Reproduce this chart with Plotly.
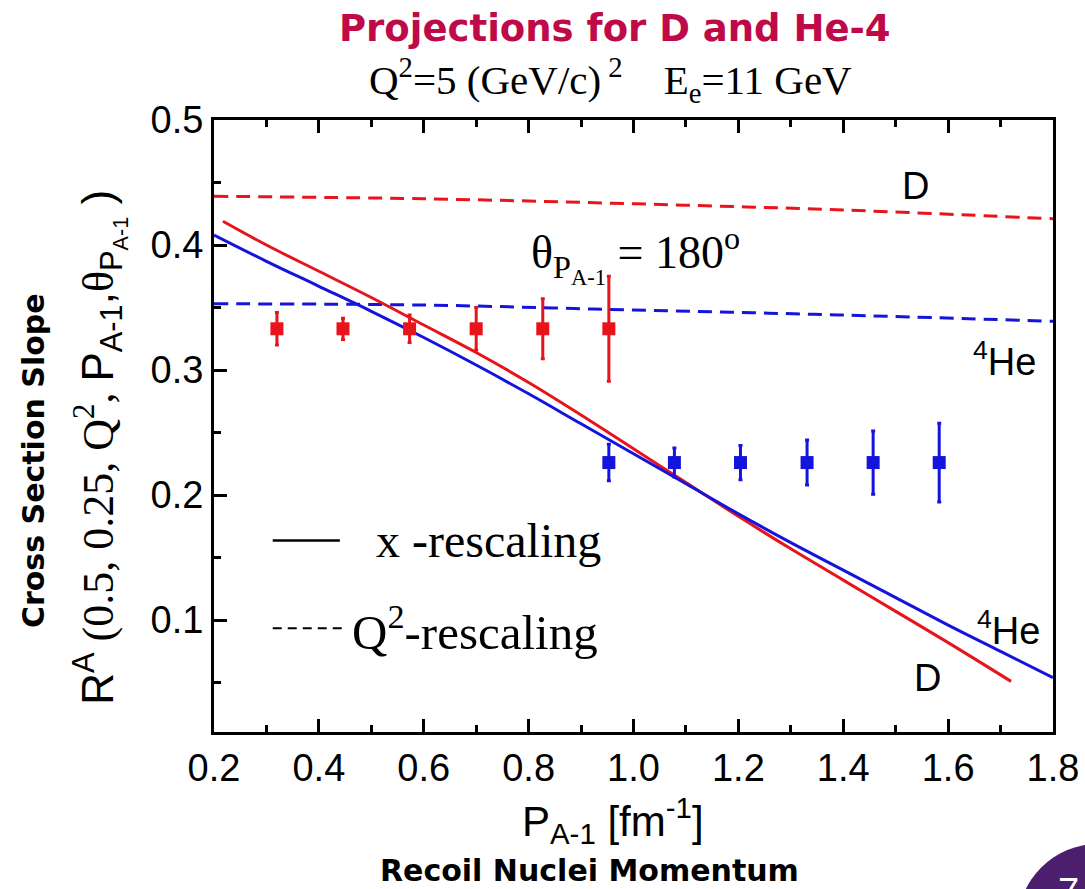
import plotly.graph_objects as go

# --- model curves: x-rescaling (solid) ---
d_x_p = [0.217, 0.3, 0.4, 0.5, 0.6, 0.7, 0.8, 0.9, 1.0, 1.1, 1.2, 1.3, 1.4, 1.5, 1.6, 1.72]
d_x_r = [0.419, 0.400, 0.379, 0.358, 0.336, 0.314, 0.290, 0.264, 0.237, 0.210, 0.183, 0.157, 0.132, 0.107, 0.082, 0.051]

he_x_p = [0.2, 0.3, 0.4, 0.5, 0.6, 0.7, 0.8, 0.9, 1.0, 1.1, 1.2, 1.3, 1.4, 1.5, 1.6, 1.7, 1.8]
he_x_r = [0.408, 0.387, 0.367, 0.347, 0.326, 0.304, 0.281, 0.257, 0.233, 0.209, 0.185, 0.162, 0.140, 0.118, 0.096, 0.075, 0.054]

# --- model curves: Q^2-rescaling (dashed) ---
d_q_p = [0.2, 0.6, 1.0, 1.4, 1.8]
d_q_r = [0.439, 0.437, 0.433, 0.428, 0.421]

he_q_p = [0.2, 0.6, 1.0, 1.4, 1.8]
he_q_r = [0.353, 0.352, 0.348, 0.344, 0.339]

# --- projected measurements ---
d_pts_p = [0.320, 0.446, 0.573, 0.700, 0.827, 0.953]
d_pts_r = [0.333, 0.333, 0.333, 0.333, 0.333, 0.333]
d_pts_err = [0.013, 0.0085, 0.011, 0.017, 0.024, 0.042]

he_pts_p = [0.953, 1.078, 1.204, 1.331, 1.457, 1.583]
he_pts_r = [0.226, 0.226, 0.226, 0.226, 0.226, 0.226]
he_pts_err = [0.0146, 0.0116, 0.0137, 0.018, 0.0253, 0.0315]

x_ticks = [0.2, 0.4, 0.6, 0.8, 1.0, 1.2, 1.4, 1.6, 1.8]
x_tick_text = ["0.2", "0.4", "0.6", "0.8", "1.0", "1.2", "1.4", "1.6", "1.8"]
y_ticks = [0.1, 0.2, 0.3, 0.4, 0.5]

RED = "#e8141c"
BLUE = "#1414dc"
SANS = "Liberation Sans"
SERIF = "Liberation Serif"
BOLD = "DejaVu Sans"

fig = go.Figure()

fig.add_trace(go.Scatter(x=d_q_p, y=d_q_r, mode="lines", line=dict(color=RED, width=3, dash="14px,8px", shape="spline")))
fig.add_trace(go.Scatter(x=he_q_p, y=he_q_r, mode="lines", line=dict(color=BLUE, width=3, dash="14px,8px", shape="spline")))
fig.add_trace(go.Scatter(x=d_x_p, y=d_x_r, mode="lines", line=dict(color=RED, width=3, shape="spline")))
fig.add_trace(go.Scatter(x=he_x_p, y=he_x_r, mode="lines", line=dict(color=BLUE, width=3, shape="spline")))

fig.add_trace(go.Scatter(
    x=d_pts_p, y=d_pts_r, mode="markers",
    marker=dict(symbol="square", size=13, color=RED),
    error_y=dict(type="data", array=d_pts_err, color=RED, thickness=3, width=2),
))
fig.add_trace(go.Scatter(
    x=he_pts_p, y=he_pts_r, mode="markers",
    marker=dict(symbol="square", size=13, color=BLUE),
    error_y=dict(type="data", array=he_pts_err, color=BLUE, thickness=3, width=2),
))

axis_common = dict(
    showline=True, linecolor="black", linewidth=3, showgrid=False, zeroline=False,
    ticks="inside", ticklen=13, tickwidth=2.5, tickcolor="black", automargin=False,
    tickfont=dict(family=SANS, size=38, color="black"),
)
fig.update_xaxes(
    range=[0.2, 1.8], tickvals=x_ticks, ticktext=x_tick_text, mirror="ticks",
    minor=dict(dtick=0.1, ticks="inside", ticklen=7, tickwidth=2.5, tickcolor="black"),
    **axis_common,
)
fig.update_yaxes(
    range=[0.0105, 0.5], tickvals=y_ticks, mirror=True,
    minor=dict(dtick=0.05, ticks="inside", ticklen=7, tickwidth=2.5, tickcolor="black"),
    **axis_common,
)

y_title = (
    "R<sup>A</sup>"
    "<span style='font-family:Liberation Serif'> (0.5, 0.25, Q<sup>2</sup>, </span>"
    "P<sub>A-1</sub>,"
    "<span style='font-family:Liberation Serif'>θ</span><sub>P<sub>A-1</sub></sub> )"
)

annotations = [
    dict(text="<b>Projections for D and He-4</b>", xref="paper", yref="paper", x=0.478, y=1.149,
         xanchor="center", yanchor="middle", showarrow=False,
         font=dict(family=BOLD, size=37, color="#bf0a4a")),
    dict(text="Q<sup>2</sup>=5 (GeV/c)<sup> 2</sup>    E<sub>e</sub>=11 GeV", xref="paper", yref="paper",
         x=0.472, y=1.065, xanchor="center", yanchor="middle", showarrow=False,
         font=dict(family=SERIF, size=41, color="black")),
    # axis titles
    dict(text="<b>Cross Section Slope</b>", xref="paper", yref="paper", x=-0.216, y=0.444,
         xanchor="center", yanchor="middle", textangle=-90, showarrow=False,
         font=dict(family=BOLD, size=30, color="black")),
    dict(text=y_title, xref="paper", yref="paper", x=-0.136, y=0.466,
         xanchor="center", yanchor="middle", textangle=-90, showarrow=False,
         font=dict(family=SANS, size=44, color="black")),
    dict(text="P<sub>A-1</sub> [fm<sup>-1</sup>]", xref="paper", yref="paper", x=0.475, y=-0.144,
         xanchor="center", yanchor="middle", showarrow=False,
         font=dict(family=SANS, size=42, color="black")),
    dict(text="<b>Recoil Nuclei Momentum</b>", xref="paper", yref="paper", x=0.448, y=-0.227,
         xanchor="center", yanchor="middle", showarrow=False,
         font=dict(family=BOLD, size=30, color="black")),
    # in-plot labels
    dict(text="θ<sub>P<sub>A-1</sub></sub> = 180<sup>o</sup>", xref="x", yref="y", x=0.80, y=0.392,
         xanchor="left", yanchor="middle", showarrow=False,
         font=dict(family=SERIF, size=46, color="black")),
    dict(text="D", xref="x", yref="y", x=1.537, y=0.447, showarrow=False,
         font=dict(family=SANS, size=38, color="black")),
    dict(text="<sup>4</sup>He", xref="x", yref="y", x=1.707, y=0.309, showarrow=False,
         font=dict(family=SANS, size=38, color="black")),
    dict(text="<sup>4</sup>He", xref="x", yref="y", x=1.716, y=0.094, showarrow=False,
         font=dict(family=SANS, size=38, color="black")),
    dict(text="D", xref="x", yref="y", x=1.56, y=0.0535, showarrow=False,
         font=dict(family=SANS, size=38, color="black")),
    # legend text
    dict(text="x -rescaling", xref="x", yref="y", x=0.505, y=0.1637, xanchor="left", showarrow=False,
         font=dict(family=SERIF, size=48, color="black")),
    dict(text="Q<sup>2</sup>-rescaling", xref="x", yref="y", x=0.46, y=0.0935, xanchor="left", showarrow=False,
         font=dict(family=SERIF, size=49, color="black")),
    # page number badge
    dict(text="7", xref="paper", yref="paper", x=1.018, y=-0.262, xanchor="center", yanchor="middle",
         showarrow=False, font=dict(family=SANS, size=38, color="white")),
]

shapes = [
    # legend samples
    dict(type="line", xref="x", yref="y", x0=0.312, x1=0.44, y0=0.1637, y1=0.1637,
         line=dict(color="black", width=2.5)),
    dict(type="line", xref="x", yref="y", x0=0.312, x1=0.455, y0=0.0935, y1=0.0935,
         line=dict(color="black", width=2, dash="9px,6px")),
    # page number badge
    dict(type="circle", xref="paper", yref="paper", x0=0.958, x1=1.149, y0=-0.444, y1=-0.183,
         fillcolor="#4b1e6e", line=dict(width=0), layer="below"),
]

fig.update_layout(
    width=1085, height=889,
    margin=dict(l=214, r=32, t=120, b=157, autoexpand=False),
    paper_bgcolor="white", plot_bgcolor="white",
    showlegend=False,
    annotations=annotations,
    shapes=shapes,
)

fig.write_html("out.html")
